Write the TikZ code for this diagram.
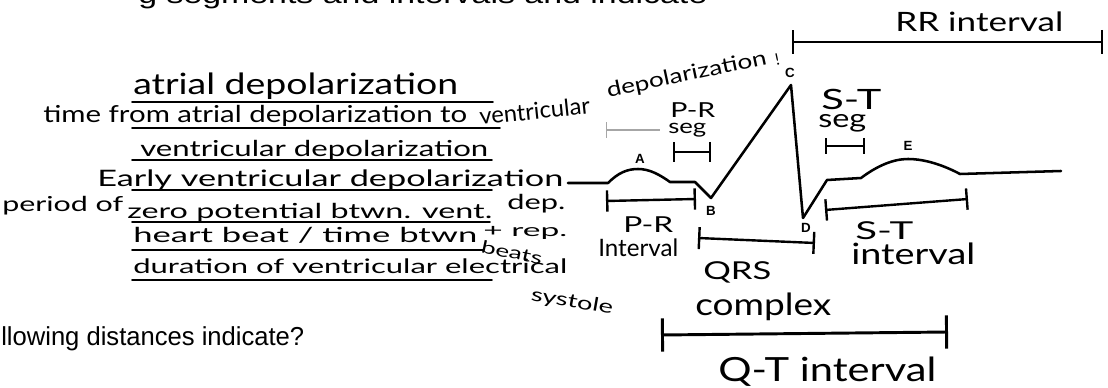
\documentclass[tikz,border=0pt]{standalone}
\usepackage{fontspec}
\usepackage{graphicx}
\usetikzlibrary{arrows.meta}
\newfontfamily\hand{Lato}
\newfontfamily\printf{Liberation Sans}
\newcommand\hw[2]{\resizebox{\dimexpr #1pt*3/4\relax}{\height}{#2}}
\newcommand\hf[1]{\hand\fontsize{#1}{#1}\selectfont}
\tikzset{
  ht/.style={inner sep=0pt, anchor=base west},
  ul/.style={line width=1.3pt, line cap=round},
  trace/.style={line width=1.9pt, line join=round, line cap=round},
  brk/.style={line width=1.8pt, {Bar[width=#1]}-{Bar[width=#1]}},
  lbl/.style={inner sep=0pt, font=\printf\bfseries\fontsize{10}{10}\selectfont},
  faint/.style={draw=black!35, line width=1pt, dash pattern=on 40pt off 6pt, {Bar[width=12pt]}-},
}
\begin{document}
\begin{tikzpicture}[x=0.75pt,y=-0.75pt]
\useasboundingbox (0,0) rectangle (1108,388);
\clip (0,0) rectangle (1108,388);

% clipped printed line at the top
\node[ht, font=\printf\fontsize{19.5}{20}\selectfont] (top) at (138,4) {\hw{569}{g segments and intervals and indicate}};
% printed question
\node[ht, font=\printf\fontsize{19.5}{20}\selectfont] (q) at (1,346) {\hw{303}{llowing distances indicate?}};

% handwritten answers
\node[ht, font=\hf{22}] (l1) at (133,95) {\hw{325}{atrial depolarization}};
\node[ht, font=\hf{17.5}] (l2) at (43,123) {\hw{424}{time from atrial depolarization to}};
\node[ht, font=\hf{17.5}, rotate=6] (l2b) at (480,125) {\hw{111}{ventricular}};
\node[ht, font=\hf{15.5}, rotate=12] (l2c) at (608,98) {\hw{163}{depolarization}};
\node[ht, font=\hf{12}, rotate=12] (l2d) at (776,66) {!};
\node[ht, font=\hf{16.5}] (l3) at (140,157) {\hw{348}{ventricular depolarization}};
\node[ht, font=\hf{17}] (l4) at (97,187) {\hw{466}{Early ventricular depolarization}};
\node[ht, font=\hf{15.5}] (l5a) at (2,212) {\hw{121}{period of}};
\node[ht, font=\hf{15.5}] (l5b) at (127,219) {\hw{365}{zero potential btwn. vent.}};
\node[ht, font=\hf{15.5}] (l5c) at (507,210) {\hw{58}{dep.}};
\node[ht, font=\hf{13}] (l5d) at (483,237) {\hw{84}{+ rep.}};
\node[ht, font=\hf{15.5}] (l6) at (133,243) {\hw{344}{heart beat / time btwn}};
\node[ht, font=\hf{13}, rotate=-12] (l6b) at (480,252) {\hw{62}{beats}};
\node[ht, font=\hf{15}] (l7) at (133,274) {\hw{434}{duration of ventricular electrical}};
\node[ht, font=\hf{14}, rotate=-10] (l7b) at (530,300) {\hw{83}{systole}};

% underlines
\draw[ul] (132,102) -- (493,102);
\draw[ul] (132,128) -- (500,128);
\draw[ul] (132,160) -- (492,160);
\draw[ul] (132,190) -- (492,190);
\draw[ul] (132,222) -- (490,222);
\draw[ul] (132,250) -- (483,250);
\draw[ul] (132,280) -- (492,280);

% ECG trace
\coordinate (s0) at (568,183);
\coordinate (pA) at (638,169);
\coordinate (pB) at (711,198);
\coordinate (pC) at (791,85);
\coordinate (pD) at (803,218);
\coordinate (pE) at (908,159);
\coordinate (s1) at (1061,171);
\draw[trace] (s0) -- (608,183) .. controls (618,173) and (627,169) .. (pA)
  .. controls (650,169) and (660,175) .. (670,182) -- (695,182) -- (pB) -- (pC) -- (pD)
  -- (827,180) -- (861,178) .. controls (877,166) and (893,159) .. (pE)
  .. controls (926,159) and (945,166) .. (960,174) -- (s1);

% point labels
\node[lbl] (tA) at (640,159) {A};
\node[lbl] (tB) at (711,211) {B};
\node[lbl] (tC) at (790,73) {C};
\node[lbl] (tD) at (806,228) {D};
\node[lbl] (tE) at (908,146) {E};

% brackets
\coordinate (rr1) at (792,42);  \coordinate (rr2) at (1103,42);
\draw[brk=18pt] (rr1) -- (rr2);
\node[ht, font=\hf{20}] (trr) at (895,32) {\hw{168}{RR interval}};

\coordinate (ps1) at (673,152); \coordinate (ps2) at (711,152);
\draw[brk=15pt] (ps1) -- (ps2);
\node[ht, font=\hf{15.5}] (tps1) at (670,118) {\hw{45}{P-R}};
\node[ht, font=\hf{15}] (tps2) at (668,134) {\hw{38}{seg}};

\coordinate (f1) at (606,130); \coordinate (f2) at (668,130);
\draw[faint] (f1) -- (f2);

\coordinate (ss1) at (825,146); \coordinate (ss2) at (865,146);
\draw[brk=12pt] (ss1) -- (ss2);
\node[ht, font=\hf{21}] (tss1) at (821,110) {\hw{60}{S-T}};
\node[ht, font=\hf{19}] (tss2) at (818,128) {\hw{48}{seg}};

\coordinate (pi1) at (606,201); \coordinate (pi2) at (696,199);
\draw[brk=16pt] (pi1) -- (pi2);
\node[ht, font=\hf{16.5}] (tpi1) at (623,233) {\hw{50}{P-R}};
\node[ht, font=\hf{18}] (tpi2) at (598,257) {\hw{80}{Interval}};

\coordinate (qr1) at (698,238); \coordinate (qr2) at (815,243);
\draw[brk=16.5pt] (qr1) -- (qr2);
\node[ht, font=\hf{18.5}] (tqr1) at (703,280) {\hw{68}{QRS}};
\node[ht, font=\hf{23}] (tqr2) at (695,316) {\hw{136}{complex}};

\coordinate (si1) at (825,210); \coordinate (si2) at (968,199);
\draw[brk=16pt] (si1) -- (si2);
\node[ht, font=\hf{18.5}] (tsi1) at (855,240) {\hw{58}{S-T}};
\node[ht, font=\hf{22}] (tsi2) at (851,265) {\hw{124}{interval}};

\coordinate (qt1) at (661,335); \coordinate (qt2) at (948,332);
\draw[brk=25pt, line width=2.2pt] (qt1) -- (qt2);
\node[ht, font=\hf{25}] (tqt) at (718,382) {\hw{218}{Q-T interval}};
\end{tikzpicture}
\end{document}
